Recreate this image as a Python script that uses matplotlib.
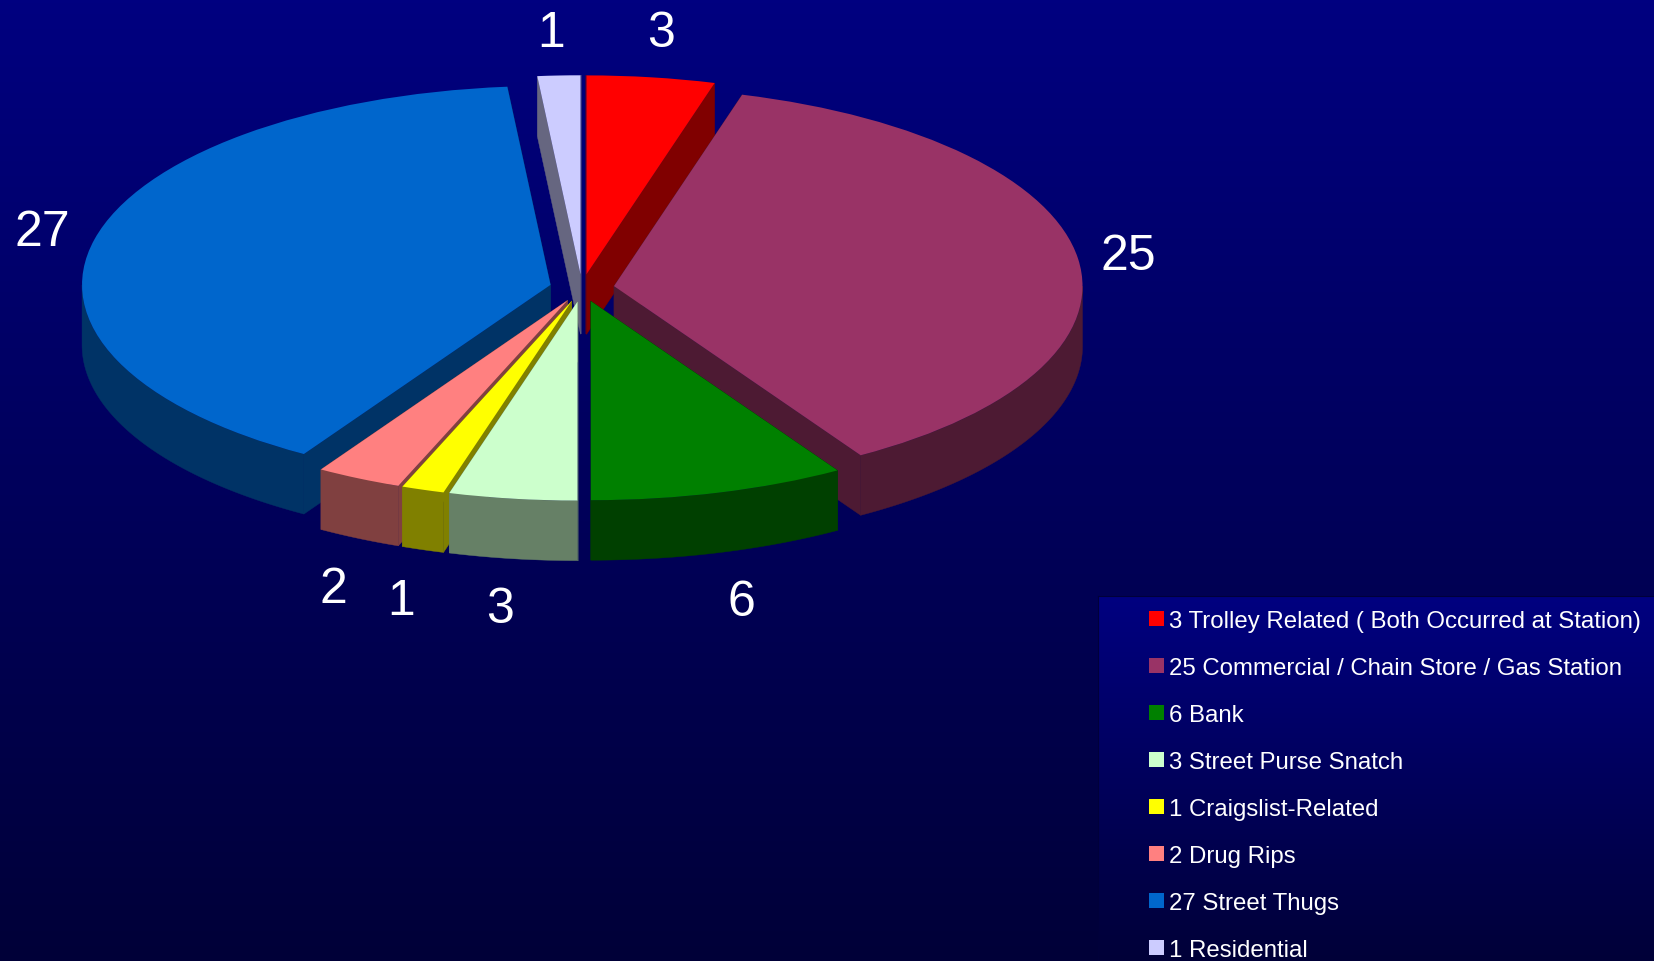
#!/usr/bin/env python3

import matplotlib
matplotlib.use('Agg')

import matplotlib.pyplot as plt
from matplotlib.colors import LinearSegmentedColormap, to_rgb
from matplotlib.patches import Patch
import numpy as np

plt.rcParams['font.family'] = ['Liberation Sans', 'DejaVu Sans']

counts = [3, 25, 6, 3, 1, 2, 27, 1]
names = ['Trolley Related ( Both Occurred at Station)',
         'Commercial / Chain Store / Gas Station',
         'Bank', 'Street Purse Snatch', 'Craigslist-Related',
         'Drug Rips', 'Street Thugs', 'Residential']
colors = ['#FF0000', '#993366', '#008000', '#CCFFCC',
          '#FFFF00', '#FF8080', '#0066CC', '#CCCCFF']

W, H = 1654, 962
cx, cy = 582, 289     # pie centre, px
rx, ry = 468.5, 199   # ellipse half axes, px
depth = 60 / ry       # wall height in y units
explode = 0.069

# back to front
draw_order = [0, 7, 1, 6, 5, 4, 3, 2]
label_px = [(661, 34), (1128, 257), (741, 603), (500, 610),
            (401, 602), (333, 590), (42, 233), (551, 34)]

fig = plt.figure(figsize=(W/100, H/100), dpi=100)

grad = LinearSegmentedColormap.from_list('bg', ['#000080', '#000038'])
ramp = np.linspace(0, 1, 256).reshape(-1, 1)

bg = fig.add_axes([0, 0, 1, 1])
bg.imshow(ramp, cmap=grad, aspect='auto', vmin=0, vmax=1)
bg.axis('off')

box_x, box_y = 1098, 597
box = fig.add_axes([box_x/W, 0, (W-box_x)/W, (H-box_y)/H], zorder=1)
box.imshow(ramp, cmap=grad, aspect='auto', vmin=0, vmax=1)
box.set_xticks([])
box.set_yticks([])
box.spines[['right', 'bottom']].set_visible(False)
box.spines[['left', 'top']].set_color('#00003A')

ax = fig.add_axes([0, 0, 1, 1], zorder=2)
wedges, _ = ax.pie(counts, colors=colors, startangle=90, counterclock=False,
                   explode=[explode]*len(counts), wedgeprops={'linewidth': 0})
ax.set_aspect('auto')
ax.set_xlim(-cx/rx, (W-cx)/rx)
ax.set_ylim((cy-H)/ry, cy/ry)


def wall(a, b, color, z):
    # a, b are top points; extrude them straight down
    xs = [a[0], b[0], b[0], a[0]]
    ys = [a[1], b[1], b[1]-depth, a[1]-depth]
    ax.fill(xs, ys, color=color, lw=0.3, zorder=z)


for z, i in enumerate(draw_order):
    w = wedges[i]
    dark = tuple(c*0.5 for c in to_rgb(colors[i]))
    x0, y0 = w.center
    t1 = w.theta1 % 360
    t2 = t1 + (w.theta2 - w.theta1)
    for t in (t1, t2):
        rad = np.radians(t)
        wall((x0, y0), (x0+np.cos(rad), y0+np.sin(rad)), dark, z*2+1)
    # outer rim, only the part facing the viewer
    lo, hi = max(t1, 180), min(t2, 360)
    if hi > lo:
        th = np.radians(np.linspace(lo, hi, 80))
        xs = x0 + np.cos(th)
        ys = y0 + np.sin(th)
        ax.fill(np.r_[xs, xs[::-1]], np.r_[ys, ys[::-1]-depth],
                color=dark, lw=0.3, zorder=z*2+1)
    w.set_zorder(z*2+2)

for v, (px, py) in zip(counts, label_px):
    fig.text(px/W, 1-py/H, str(v), color='white', fontsize=36,
             ha='center', va='center', zorder=6)

handles = [Patch(color=c, lw=0) for c in colors]
labels = [f'{v} {n}' for v, n in zip(counts, names)]
fig.legend(handles, labels, loc='upper left',
           bbox_to_anchor=(1149/W, 1-611/H), borderaxespad=0, borderpad=0,
           frameon=False, fontsize=17.3, labelcolor='white',
           handlelength=0.64, handleheight=0.64, handletextpad=0.2,
           labelspacing=1.04)

fig.savefig('out.png', dpi=100)
